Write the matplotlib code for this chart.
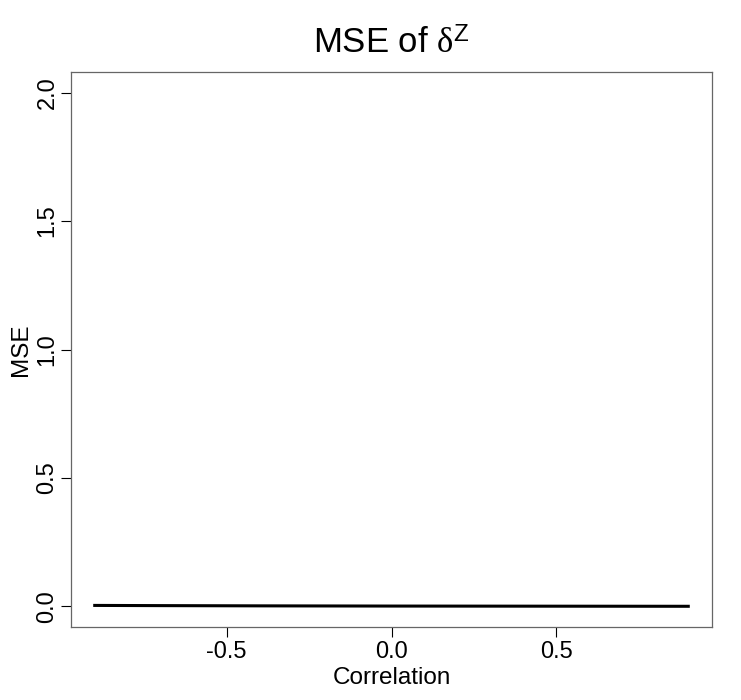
import numpy as np
import matplotlib
matplotlib.use("Agg")
import matplotlib.pyplot as plt

plt.rcParams['font.family'] = ['Liberation Sans', 'DejaVu Sans']
plt.rcParams['mathtext.fontset'] = 'custom'
plt.rcParams['mathtext.rm'] = 'Liberation Serif'
plt.rcParams['mathtext.it'] = 'Liberation Serif:italic'
plt.rcParams['mathtext.sf'] = 'Liberation Sans'

correlation = [-0.9, -0.8, -0.7, -0.6, -0.5, -0.4, -0.3, -0.2, -0.1, 0.0,
               0.1, 0.2, 0.3, 0.4, 0.5, 0.6, 0.7, 0.8, 0.9]
mse = [0.0040, 0.0036, 0.0032, 0.0029, 0.0026, 0.0023, 0.0021, 0.0019, 0.0017, 0.0015,
       0.0014, 0.0013, 0.0012, 0.0011, 0.0010, 0.0009, 0.0008, 0.0007, 0.0006]

xticks = [-0.5, 0.0, 0.5]
yticks = [0.0, 0.5, 1.0, 1.5, 2.0]

fig = plt.figure(figsize=(7.41, 7.0), dpi=100)
ax = fig.add_axes([71 / 741, 73 / 700, 641 / 741, 555 / 700])

ax.plot(correlation, mse, color='black', lw=2.2)

ax.set_xlim(-0.972, 0.972)
ax.set_ylim(-0.08, 2.08)
ax.set_xticks(xticks)
ax.set_xticklabels([f"{t:.1f}" for t in xticks], fontsize=17)
ax.set_yticks(yticks)
ax.set_yticklabels([f"{t:.1f}" for t in yticks], fontsize=17, rotation=90, va='center')
ax.tick_params(direction='out', length=7, width=0.8, colors='black', pad=3)
ax.tick_params(axis='y', pad=2)

for s in ax.spines.values():
    s.set_color('#666666')
    s.set_linewidth(0.9)

ax.set_xlabel("Correlation", fontsize=17.5, labelpad=3)
ax.set_ylabel("MSE", fontsize=17.5, labelpad=3)
ax.set_title(r"MSE of $\mathrm{\delta}^{\mathsf{Z}}$", fontsize=25, pad=13)

fig.savefig("out.png", dpi=100)
